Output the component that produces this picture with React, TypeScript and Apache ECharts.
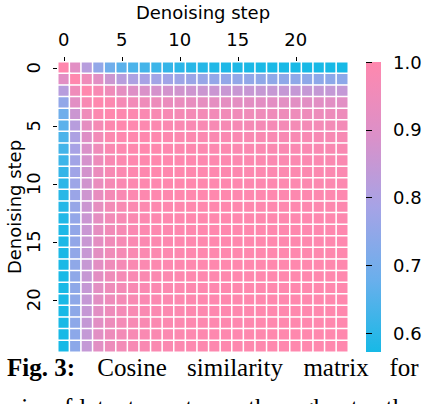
import { useEffect, useRef } from "react";
import * as echarts from "echarts";

// denoising steps 0..24
const steps = Array.from({ length: 25 }, (_, i) => String(i));

// upper triangle of the cosine similarity matrix, row i holds columns i..24
const upperRows: number[][] = [
  [1.0, 0.91, 0.82, 0.75, 0.69, 0.66, 0.64, 0.63, 0.62, 0.61, 0.6, 0.595, 0.59, 0.585, 0.582, 0.58, 0.578, 0.577, 0.576, 0.575, 0.575, 0.574, 0.574, 0.573, 0.573],
  [1.0, 0.95, 0.91, 0.86, 0.82, 0.8, 0.79, 0.78, 0.775, 0.77, 0.765, 0.76, 0.755, 0.75, 0.75, 0.748, 0.746, 0.745, 0.744, 0.743, 0.742, 0.741, 0.74, 0.74],
  [1.0, 0.98, 0.95, 0.92, 0.9, 0.89, 0.88, 0.875, 0.87, 0.865, 0.86, 0.858, 0.855, 0.853, 0.852, 0.85, 0.85, 0.848, 0.848, 0.847, 0.846, 0.845, 0.845],
  [1.0, 0.99, 0.97, 0.96, 0.95, 0.945, 0.94, 0.935, 0.93, 0.925, 0.922, 0.92, 0.918, 0.916, 0.915, 0.914, 0.913, 0.912, 0.911, 0.91, 0.91, 0.91],
  [1.0, 0.995, 0.99, 0.985, 0.98, 0.975, 0.97, 0.967, 0.963, 0.96, 0.957, 0.955, 0.953, 0.951, 0.95, 0.949, 0.948, 0.947, 0.946, 0.945, 0.945],
  [1.0, 0.997, 0.993, 0.99, 0.987, 0.984, 0.981, 0.978, 0.976, 0.974, 0.972, 0.97, 0.969, 0.968, 0.967, 0.966, 0.965, 0.965, 0.964, 0.964],
  [1.0, 0.998, 0.996, 0.994, 0.992, 0.99, 0.988, 0.986, 0.985, 0.984, 0.983, 0.982, 0.981, 0.98, 0.979, 0.978, 0.977, 0.976, 0.975],
  [1.0, 0.998, 0.997, 0.995, 0.994, 0.992, 0.991, 0.99, 0.989, 0.988, 0.987, 0.986, 0.985, 0.984, 0.984, 0.983, 0.982, 0.982],
  [1.0, 0.999, 0.997, 0.996, 0.995, 0.994, 0.993, 0.992, 0.991, 0.99, 0.989, 0.989, 0.988, 0.987, 0.987, 0.986, 0.986],
  [1.0, 0.999, 0.998, 0.997, 0.996, 0.995, 0.994, 0.993, 0.993, 0.992, 0.991, 0.991, 0.99, 0.99, 0.989, 0.989],
  [1.0, 0.999, 0.998, 0.997, 0.997, 0.996, 0.995, 0.995, 0.994, 0.993, 0.993, 0.992, 0.992, 0.991, 0.991],
  [1.0, 0.999, 0.999, 0.998, 0.997, 0.997, 0.996, 0.996, 0.995, 0.995, 0.994, 0.994, 0.993, 0.993],
  [1.0, 0.999, 0.999, 0.998, 0.998, 0.997, 0.997, 0.996, 0.996, 0.995, 0.995, 0.995, 0.994],
  [1.0, 0.999, 0.999, 0.998, 0.998, 0.997, 0.997, 0.997, 0.996, 0.996, 0.996, 0.995],
  [1.0, 0.999, 0.999, 0.999, 0.998, 0.998, 0.998, 0.997, 0.997, 0.997, 0.996],
  [1.0, 0.999, 0.999, 0.999, 0.998, 0.998, 0.998, 0.997, 0.997, 0.997],
  [1.0, 1.0, 0.999, 0.999, 0.999, 0.998, 0.998, 0.998, 0.998],
  [1.0, 1.0, 0.999, 0.999, 0.999, 0.999, 0.998, 0.998],
  [1.0, 1.0, 0.999, 0.999, 0.999, 0.999, 0.999],
  [1.0, 1.0, 1.0, 0.999, 0.999, 0.999],
  [1.0, 1.0, 1.0, 0.999, 0.999],
  [1.0, 1.0, 1.0, 1.0],
  [1.0, 1.0, 1.0],
  [1.0, 1.0],
  [1.0],
];

const colorMin = 0.5725;
const colorMax = 1.0;
const colorTicks = [0.6, 0.7, 0.8, 0.9, 1.0];
const palette = ["#17b9e6", "#6aafec", "#a6a3e6", "#dc90c8", "#ff88ae"];

const captionLine1 = [
  { text: "Fig. 3:", x: 41, bold: true },
  { text: "Cosine", x: 132 },
  { text: "similarity", x: 235 },
  { text: "matrix", x: 336 },
  { text: "for", x: 404 },
];
const captionLine2 = [
  { text: "pairs", x: 22 },
  { text: "of", x: 62 },
  { text: "latent", x: 107 },
  { text: "vectors", x: 187 },
  { text: "throughout", x: 303 },
  { text: "the", x: 401 },
];

const FONT = "DejaVu Sans";

export default function App() {
  const chartRef = useRef<HTMLDivElement>(null);

  useEffect(() => {
    const chart = echarts.init(chartRef.current, null, { renderer: "svg" });

    const cells: number[][] = [];
    upperRows.forEach((row, i) => {
      row.forEach((v, k) => {
        const j = i + k;
        cells.push([j, i, v]);
        if (j !== i) cells.push([i, j, v]);
      });
    });

    const captionText = (
      words: { text: string; x: number; bold?: boolean }[],
      y: number
    ) =>
      words.map((w) => ({
        type: "text",
        x: w.x,
        y,
        style: {
          text: w.text,
          font: `${w.bold ? "bold " : ""}25px "Liberation Serif"`,
          fill: "#000",
          align: "center",
          verticalAlign: "top",
        },
      }));

    const tickStyle = { color: "#000", width: 1 };

    chart.setOption({
      animation: false,
      backgroundColor: "#fff",
      grid: [
        { left: 58, top: 62, width: 290, height: 290, outerBoundsMode: "none", containLabel: false },
        { left: 366, top: 62, width: 15, height: 290, outerBoundsMode: "none", containLabel: false },
      ],
      xAxis: [
        {
          type: "category",
          data: steps,
          position: "top",
          name: "Denoising step",
          nameLocation: "middle",
          nameGap: 41,
          nameMoveOverlap: false,
          nameTextStyle: { fontFamily: FONT, fontSize: 18, color: "#000" },
          axisLine: { show: false },
          axisTick: { show: true, interval: 4, alignWithLabel: true, length: 5, lineStyle: tickStyle },
          axisLabel: { interval: 4, fontFamily: FONT, fontSize: 18, color: "#000", margin: 14 },
          splitLine: { show: false },
        },
        { type: "value", gridIndex: 1, show: false, min: 0, max: 1 },
      ],
      yAxis: [
        {
          type: "category",
          data: steps,
          inverse: true,
          name: "Denoising step",
          nameLocation: "middle",
          nameGap: 35,
          nameRotate: 90,
          nameMoveOverlap: false,
          nameTextStyle: { fontFamily: FONT, fontSize: 18, color: "#000" },
          axisLine: { show: false },
          axisTick: { show: true, interval: 4, alignWithLabel: true, length: 5, lineStyle: tickStyle },
          axisLabel: { interval: 4, rotate: 90, fontFamily: FONT, fontSize: 18, color: "#000", margin: 16 },
          splitLine: { show: false },
        },
        {
          type: "value",
          gridIndex: 1,
          position: "right",
          min: colorMin,
          max: colorMax,
          axisLine: { show: false },
          splitLine: { show: false },
          axisTick: { show: true, length: 6, lineStyle: tickStyle, customValues: colorTicks },
          axisLabel: {
            customValues: colorTicks,
            formatter: (v: number) => v.toFixed(1),
            fontFamily: FONT,
            fontSize: 18,
            color: "#000",
            margin: 12,
          },
        },
      ],
      visualMap: {
        show: false,
        type: "continuous",
        min: colorMin,
        max: colorMax,
        seriesIndex: 0,
        inRange: { color: palette },
      },
      series: [
        {
          type: "heatmap",
          data: cells,
          itemStyle: { borderColor: "#fff", borderWidth: 1.5 },
          emphasis: { disabled: true },
        },
      ],
      graphic: [
        {
          type: "rect",
          shape: { x: 366, y: 62, width: 15, height: 290 },
          style: {
            fill: new echarts.graphic.LinearGradient(
              0,
              1,
              0,
              0,
              palette.map((c, i) => ({ offset: i / (palette.length - 1), color: c }))
            ),
          },
          silent: true,
        },
        ...captionText(captionLine1, 355),
        ...captionText(captionLine2, 395),
      ],
    });

    return () => {
      chart.dispose();
    };
  }, []);

  return (
    <div
      ref={chartRef}
      style={{ position: "fixed", left: 0, top: 0, width: "424px", height: "404px" }}
    />
  );
}
